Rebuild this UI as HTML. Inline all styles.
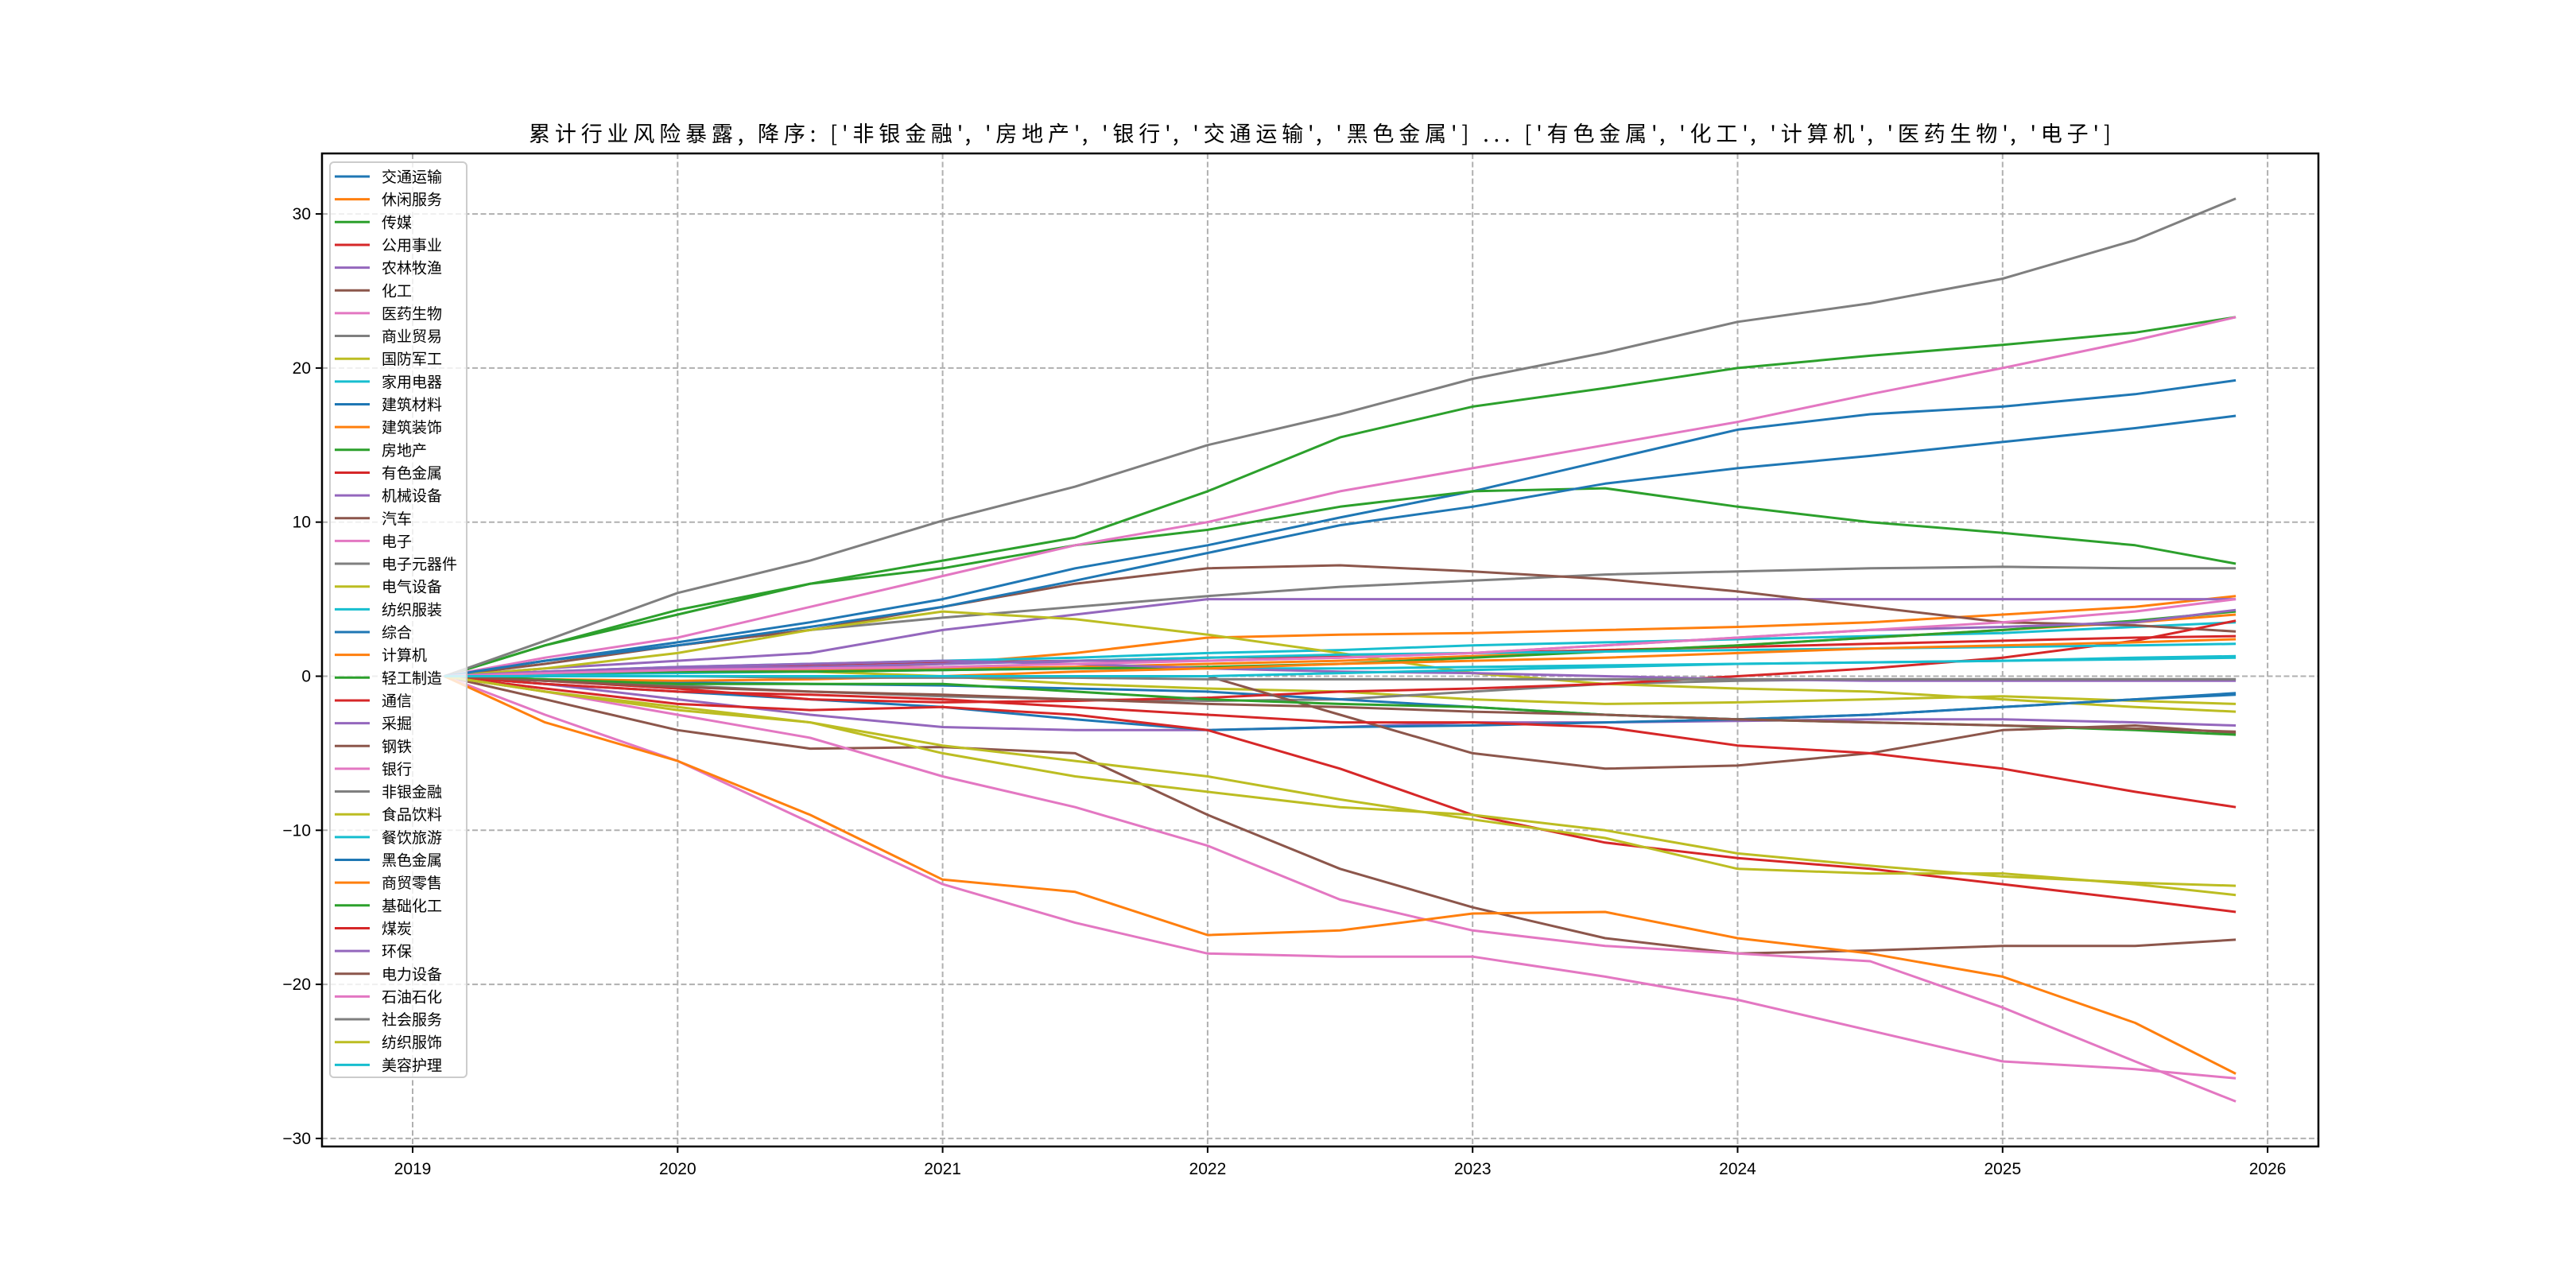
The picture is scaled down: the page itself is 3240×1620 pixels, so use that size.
<!DOCTYPE html>
<html><head><meta charset="utf-8"><style>
html,body{margin:0;padding:0;background:#fff;}
svg{display:block;font-family:"Liberation Sans","Noto Sans CJK SC",sans-serif;}
</style></head><body>
<svg id="chart" width="3240" height="1620" viewBox="0 0 3240 1620" xmlns="http://www.w3.org/2000/svg">
<rect width="3240" height="1620" fill="#fff"/>
<text x="665" y="178" font-size="27" textLength="1990" lengthAdjust="spacing" fill="#000" style="font-family:'Noto Sans CJK SC','Liberation Sans',sans-serif">累计行业风险暴露, 降序: ['非银金融', '房地产', '银行', '交通运输', '黑色金属'] ... ['有色金属', '化工', '计算机', '医药生物', '电子']</text>
<g id="grid"></g><g id="lines"></g><g id="axes"></g><g id="legend"></g>
</svg>
<script>
const times = [2019.12,2019.5,2020,2020.5,2021,2021.5,2022,2022.5,2023,2023.5,2024,2024.5,2025,2025.5,2025.88];
const names = ['交通运输','休闲服务','传媒','公用事业','农林牧渔','化工','医药生物','商业贸易','国防军工','家用电器','建筑材料','建筑装饰','房地产','有色金属','机械设备','汽车','电子','电子元器件','电气设备','纺织服装','综合','计算机','轻工制造','通信','采掘','钢铁','银行','非银金融','食品饮料','餐饮旅游','黑色金属','商贸零售','基础化工','煤炭','环保','电力设备','石油石化','社会服务','纺织服饰','美容护理'];
const s00=[0,1,2.2,3.5,5,7,8.5,10.3,12,14,16,17,17.5,18.3,19.2];
const s01=[0,0.2,0.4,0.5,0.8,1.5,2.5,2.7,2.8,3,3.2,3.5,4,4.5,5.2];
const s02=[0,2,4,6,7,8.5,9.5,11,12,12.2,11,10,9.3,8.5,7.3];
const s03=[0,0.3,0.5,0.7,0.9,1,1.2,1.3,1.5,1.7,1.9,2.1,2.3,2.5,2.6];
const s04=[0,-0.5,-1.5,-2.5,-3.3,-3.5,-3.5,-3.3,-3,-3,-2.9,-2.8,-2.8,-3,-3.2];
const s05=[0,-1.5,-3.5,-4.7,-4.6,-5,-9,-12.5,-15,-17,-18,-17.8,-17.5,-17.5,-17.1];
const s06=[0,-2.5,-5.5,-9.5,-13.5,-16,-18,-18.2,-18.2,-19.5,-21,-23,-25,-25.5,-26.1];
const s07=[0,1,2,3,3.8,4.5,5.2,5.8,6.2,6.6,6.8,7,7.1,7,7];
const s08=[0,0.2,0.4,0.3,0,-0.5,-0.8,-1,-1.5,-1.8,-1.7,-1.5,-1.3,-1.6,-1.8];
const s09=[0,0.3,0.6,0.8,1,1.2,1.5,1.7,2,2.2,2.4,2.6,2.8,3.2,3.5];
const s10=[0,-0.5,-1,-1.5,-2,-2.8,-3.5,-3.3,-3.2,-3,-2.8,-2.5,-2,-1.5,-1.2];
const s11=[0,0.2,0.5,0.4,0.5,0.6,0.8,1,1.3,1.6,2,2.5,3,3.5,4];
const s12=[0,2,4.3,6,7.5,9,12,15.5,17.5,18.7,20,20.8,21.5,22.3,23.3];
const s13=[0,-0.8,-1.8,-2.2,-2,-2.5,-3.5,-6,-9,-10.8,-11.8,-12.5,-13.5,-14.5,-15.3];
const s14=[0,0.5,1,1.5,3,4,5,5,5,5,5,5,5,5,5];
const s15=[0,0.8,2,3,4.5,6,7,7.2,6.8,6.3,5.5,4.5,3.5,3.3,2.9];
const s16=[0,-1,-2.5,-4,-6.5,-8.5,-11,-14.5,-16.5,-17.5,-18,-18.5,-21.5,-25,-27.6];
const s17=[0,-0.3,-0.6,-1,-1.3,-1.5,-1.6,-1.5,-1,-0.5,-0.3,-0.2,-0.2,-0.2,-0.2];
const s18=[0,0.5,1.5,3,4.2,3.7,2.7,1.5,0.2,-0.5,-0.8,-1,-1.5,-2,-2.3];
const s19=[0,0.1,0.2,0.3,0.4,0.5,0.5,0.5,0.6,0.7,0.8,0.9,1,1.2,1.3];
const s20=[0,-0.2,-0.4,-0.5,-0.6,-0.8,-1,-1.5,-2,-2.5,-2.8,-2.5,-2,-1.5,-1.1];
const s21=[0,-3,-5.5,-9,-13.2,-14,-16.8,-16.5,-15.4,-15.3,-17,-18,-19.5,-22.5,-25.8];
const s22=[0,0.2,0.3,0.3,0.4,0.5,0.6,0.8,1.2,1.6,2,2.5,3,3.6,4.2];
const s23=[0,-0.3,-0.8,-1.5,-1.7,-1.6,-1.4,-1,-0.8,-0.5,0,0.5,1.2,2.3,3.6];
const s24=[0,0.3,0.6,0.8,1,0.8,0.5,0.3,0.2,0,-0.2,-0.3,-0.3,-0.3,-0.3];
const s25=[0,0,0,0,0,0,0,-2.5,-5,-6,-5.8,-5,-3.5,-3.2,-3.7];
const s26=[0,1.2,2.5,4.5,6.5,8.5,10,12,13.5,15,16.5,18.3,20,21.8,23.3];
const s27=[0,2.3,5.4,7.5,10.1,12.3,15,17,19.3,21,23,24.2,25.8,28.3,31];
const s28=[0,-1,-2,-3,-5,-6.5,-7.5,-8.5,-9,-10,-11.5,-12.3,-13,-13.4,-13.6];
const s29=[0,0.2,0.4,0.6,0.8,1,1.2,1.4,1.5,1.6,1.7,1.8,1.9,2,2.1];
const s30=[0,1,2,3.2,4.5,6.2,8,9.8,11,12.5,13.5,14.3,15.2,16.1,16.9];
const s31=[0,-0.2,-0.3,-0.2,0,0.3,0.5,0.8,1,1.2,1.5,1.8,2,2.2,2.4];
const s32=[0,-0.2,-0.5,-0.5,-0.5,-1,-1.5,-1.8,-2,-2.5,-2.8,-3,-3.2,-3.5,-3.8];
const s33=[0,-0.5,-1,-1.2,-1.5,-2,-2.5,-3,-3,-3.3,-4.5,-5,-6,-7.5,-8.5];
const s34=[0,0.3,0.5,0.6,0.8,1,1,1.2,1.5,2,2.5,3,3.2,3.5,4.3];
const s35=[0,-0.3,-0.7,-1,-1.2,-1.5,-1.8,-2,-2.3,-2.5,-2.8,-3,-3.2,-3.4,-3.6];
const s36=[0,0.2,0.4,0.5,0.6,0.8,1,1.2,1.5,2,2.5,3,3.5,4.2,5];
const s37=[0,0,0,-0.1,-0.1,-0.1,-0.2,-0.2,-0.2,-0.2,-0.2,-0.2,-0.2,-0.2,-0.2];
const s38=[0,-1,-2.2,-3,-4.5,-5.5,-6.5,-8,-9.3,-10.5,-12.5,-12.8,-12.8,-13.5,-14.2];
const s39=[0,0,0,0,0,0,0,0.2,0.4,0.6,0.8,0.9,1,1.1,1.2];
const series=[s00,s01,s02,s03,s04,s05,s06,s07,s08,s09,s10,s11,s12,s13,s14,s15,s16,s17,s18,s19,s20,s21,s22,s23,s24,s25,s26,s27,s28,s29,s30,s31,s32,s33,s34,s35,s36,s37,s38,s39];
const xTicks=[2019,2020,2021,2022,2023,2024,2025,2026];
const yTicks=[-30,-20,-10,0,10,20,30];
const palette=['#1f77b4','#ff7f0e','#2ca02c','#d62728','#9467bd','#8c564b','#e377c2','#7f7f7f','#bcbd22','#17becf'];

const L=405,R=2916,T=193,B=1442;
const xS=t=>519+(t-2019)*333.3;
const yS=v=>850.5-v*19.38;
const NS='http://www.w3.org/2000/svg';
function mk(tag,attrs,parent){const e=document.createElementNS(NS,tag);for(const k in attrs)e.setAttribute(k,attrs[k]);parent.appendChild(e);return e;}
const grid=document.getElementById('grid'),lines=document.getElementById('lines'),axes=document.getElementById('axes'),leg=document.getElementById('legend');

xTicks.forEach(t=>{
  const x=xS(t);
  const g=mk('line',{x1:x,x2:x,y1:T,y2:B,stroke:'#b0b0b0','stroke-width':2,'stroke-dasharray':'7,3.5'},grid);
  
  
  const tk=mk('line',{x1:x,x2:x,y1:B,y2:B+8,stroke:'#000','stroke-width':2},axes);
  
  
  const lb=mk('text',{x:x,y:B+35,'font-size':21,'text-anchor':'middle',fill:'#000'},axes);
  lb.textContent=t;
  
  
});
yTicks.forEach(v=>{
  const y=yS(v);
  const g=mk('line',{x1:L,x2:R,y1:y,y2:y,stroke:'#b0b0b0','stroke-width':2,'stroke-dasharray':'7,3.5'},grid);
  
  
  const tk=mk('line',{x1:L-8,x2:L,y1:y,y2:y,stroke:'#000','stroke-width':2},axes);
  
  
  const lb=mk('text',{x:L-14,y:y+7,'font-size':21,'text-anchor':'end',fill:'#000'},axes);
  lb.textContent=v===0?'0':(v<0?'\u2212'+(-v):v);
  
  
});
series.forEach((s,i)=>{
  const pts=s.map((v,j)=>xS(times[j]).toFixed(1)+','+yS(v).toFixed(1)).join(' ');
  const p=mk('polyline',{points:pts,fill:'none',stroke:palette[i%10],'stroke-width':3,'stroke-linejoin':'round'},lines);
  
  
});
const frame=mk('rect',{x:L,y:T,width:R-L,height:B-T,fill:'none',stroke:'#000','stroke-width':2.5},axes);



const lb=mk('rect',{x:415,y:204,width:172,height:1151,rx:5,fill:'#fff','fill-opacity':0.8,stroke:'#cccccc','stroke-width':2},leg);


names.forEach((n,i)=>{
  const y=222+i*28.65;
  const ln=mk('line',{x1:421,x2:465,y1:y,y2:y,stroke:palette[i%10],'stroke-width':3},leg);
  
  
  const tx=mk('text',{x:480,y:y+7,'font-size':19,fill:'#000'},leg);
  tx.textContent=n;
  
  
});
</script>
</body></html>
